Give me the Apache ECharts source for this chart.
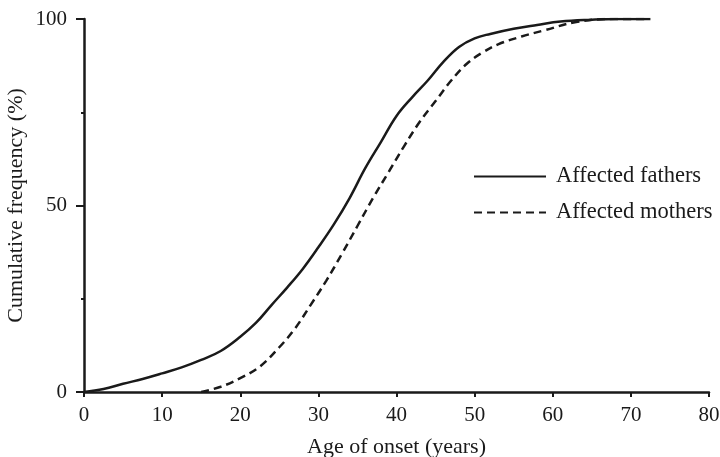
<!DOCTYPE html>
<html>
<head>
<meta charset="utf-8">
<script src="https://cdn.jsdelivr.net/npm/echarts@6/dist/echarts.min.js"></script>
<style>
  html, body { margin: 0; padding: 0; background: #fff; }
  #chart { width: 720px; height: 457px; }
</style>
</head>
<body>
<div id="chart"></div>
<script>
const fatherAge = [0, 2.5, 5, 7.5, 10, 12.5, 15, 17.5, 20, 22, 24, 26, 28, 30, 32, 34, 36, 38, 40, 42, 44, 46, 48, 50, 52, 55, 58, 61, 65, 68, 72.5];
const fatherPct = [0, 0.8, 2.2, 3.5, 5, 6.6, 8.6, 11, 14.8, 18.5, 23.3, 28, 33, 38.8, 45, 52, 60, 67, 74, 79, 83.5, 88.5, 92.5, 94.8, 96, 97.4, 98.4, 99.3, 99.8, 100, 100];

const motherAge = [15, 17.5, 20, 22.5, 25, 27, 29, 31, 33, 35, 37, 39, 41, 43, 45, 47, 49, 51, 53, 56, 59, 63, 68, 72];
const motherPct = [0, 1.4, 3.7, 6.8, 12, 17, 23.3, 29.8, 37, 44.5, 52, 59, 66, 72.5, 78, 83.5, 88, 91, 93.2, 95.3, 97, 99.2, 100, 100];

const xTicks = [0, 10, 20, 30, 40, 50, 60, 70, 80];
const yTicks = [0, 50, 100];

const pairs = (xs, ys) => xs.map((x, i) => [x, ys[i]]);

const ink = '#1a1a1a';
const font = '"Liberation Serif", "DejaVu Serif", serif';

const chart = echarts.init(document.getElementById('chart'));

chart.setOption({
    animation: false,
    textStyle: { fontFamily: font, color: ink },
    grid: { left: 84, right: 11, top: 19, bottom: 65, containLabel: false, outerBoundsMode: 'none' },
    legend: {
        orient: 'vertical',
        left: 468,
        top: 160,
        itemWidth: 72,
        itemHeight: 14,
        itemGap: 13,
        itemStyle: { opacity: 0 },
        textStyle: { fontFamily: font, fontSize: 22.5, color: ink, padding: [0, 0, 0, 5] },
        data: ['Affected fathers', 'Affected mothers']
    },
    xAxis: {
        type: 'value',
        min: 0,
        max: 80,
        interval: 10,
        name: 'Age of onset (years)',
        nameLocation: 'middle',
        nameGap: 44,
        nameMoveOverlap: false,
        nameTextStyle: { fontFamily: font, fontSize: 22, color: ink },
        axisLine: { show: true, lineStyle: { color: ink, width: 2.5 } },
        axisTick: { show: true, length: 5, lineStyle: { color: ink, width: 2 } },
        axisLabel: {
            fontFamily: font, fontSize: 21, color: ink, margin: 13,
            formatter: v => xTicks.includes(v) ? String(v) : ''
        },
        splitLine: { show: false }
    },
    yAxis: {
        type: 'value',
        min: 0,
        max: 100,
        interval: 50,
        name: 'Cumulative frequency (%)',
        nameLocation: 'middle',
        nameGap: 57,
        nameMoveOverlap: false,
        nameTextStyle: { fontFamily: font, fontSize: 22, color: ink },
        axisLine: { show: true, lineStyle: { color: ink, width: 2.5 } },
        axisTick: { show: true, length: 8, lineStyle: { color: ink, width: 2 } },
        minorTick: { show: true, splitNumber: 2, length: 3, lineStyle: { color: ink, width: 2 } },
        axisLabel: {
            fontFamily: font, fontSize: 21, color: ink, margin: 17,
            formatter: v => yTicks.includes(v) ? String(v) : ''
        },
        splitLine: { show: false }
    },
    series: [
        {
            name: 'Affected fathers',
            type: 'line',
            data: pairs(fatherAge, fatherPct),
            smooth: 0.4,
            symbol: 'none',
            lineStyle: { color: ink, width: 2.5 },
            itemStyle: { color: ink }
        },
        {
            name: 'Affected mothers',
            type: 'line',
            data: pairs(motherAge, motherPct),
            smooth: 0.4,
            symbol: 'none',
            lineStyle: { color: ink, width: 2.5, type: [8, 5] },
            itemStyle: { color: ink }
        }
    ]
});
</script>
</body>
</html>
